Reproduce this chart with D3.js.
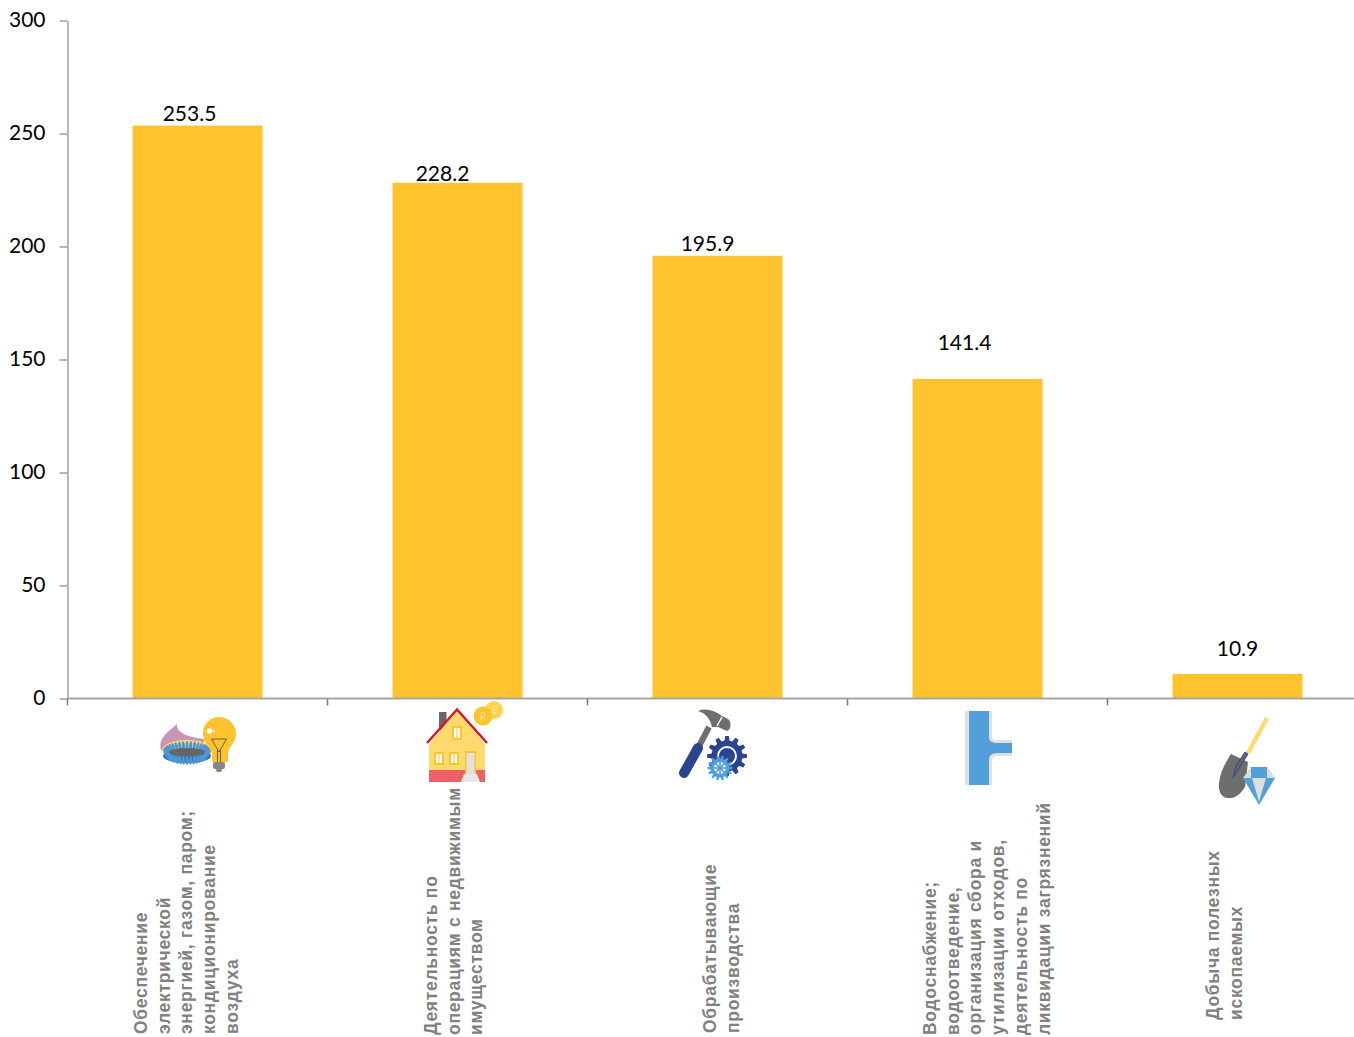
<!DOCTYPE html>
<html>
<head>
<meta charset="utf-8">
<script src="https://cdnjs.cloudflare.com/ajax/libs/d3/7.8.5/d3.min.js"></script>
<style>
  html, body { margin: 0; padding: 0; background: #fff; overflow: hidden; }
</style>
</head>
<body>
<div id="chart"></div>
<script>
// chart data
var categories = ["electricity", "realestate", "manufacturing", "water", "mining"];
var values = [253.5, 228.2, 195.9, 141.4, 10.9];
var yTicks = [0, 50, 100, 150, 200, 250, 300];
var categoryLines = [
    ["Обеспечение", "электрической", "энергией, газом, паром;", "кондиционирование", "воздуха"],
    ["Деятельность по", "операциям с недвижимым", "имуществом"],
    ["Обрабатывающие", "производства"],
    ["Водоснабжение;", "водоотведение,", "организация сбора и", "утилизации отходов,", "деятельность по", "ликвидации загрязнений"],
    ["Добыча полезных", "ископаемых"]
];

var svgWidth = 1354;
var svgHeight = 1037;
var margin = { top: 20.5, left: 67.5, bottom: 338.5 };
var plotBottom = svgHeight - margin.bottom;

var svg = d3.select("#chart")
    .append("svg")
    .attr("width", svgWidth)
    .attr("height", svgHeight)
    .style("display", "block");

// the last band runs past the right edge of the picture, as in the original
var xScale = d3.scaleBand()
    .domain(categories)
    .range([margin.left, margin.left + 1300])
    .paddingInner(0.5)
    .paddingOuter(0.25);

var yScale = d3.scaleLinear()
    .domain([0, 300])
    .range([plotBottom, margin.top]);

var axisColor = "#a6a6a6";
var numberFont = "Lato, sans-serif";

// bars
svg.selectAll(".bar")
    .data(values)
    .enter()
    .append("rect")
    .attr("class", "bar")
    .attr("x", (d, i) => xScale(categories[i]))
    .attr("width", xScale.bandwidth())
    .attr("y", d => yScale(d))
    .attr("height", d => plotBottom - yScale(d))
    .attr("fill", "#ffc32d");

// y axis
var leftAxis = d3.axisLeft(yScale)
    .tickValues(yTicks)
    .tickSize(8)
    .tickSizeOuter(0)
    .tickPadding(14);

var yAxisGroup = svg.append("g")
    .attr("transform", `translate(${margin.left}, 0)`)
    .call(leftAxis);
yAxisGroup.selectAll("path, line").attr("stroke", axisColor).attr("stroke-width", 1.6);
yAxisGroup.selectAll("text")
    .attr("fill", "#000")
    .attr("dy", "0.28em")
    .style("font-family", numberFont)
    .style("font-size", "21px");

// x axis, ticks sit between the categories
svg.append("line")
    .attr("x1", margin.left)
    .attr("x2", svgWidth)
    .attr("y1", plotBottom)
    .attr("y2", plotBottom)
    .attr("stroke", axisColor)
    .attr("stroke-width", 1.8);

svg.selectAll(".xtick")
    .data(categories)
    .enter()
    .append("line")
    .attr("class", "xtick")
    .attr("x1", (d, i) => margin.left + i * xScale.step())
    .attr("x2", (d, i) => margin.left + i * xScale.step())
    .attr("y1", plotBottom)
    .attr("y2", plotBottom + 7)
    .attr("stroke", "#808080")
    .attr("stroke-width", 1.6);

// value labels were moved by hand in the original, so they have their own nudges
var labelNudgeX = [-8, -15, -10, -13, 0];
var labelNudgeY = [-5, -2, -5, -29, -18];

svg.selectAll(".value")
    .data(values)
    .enter()
    .append("text")
    .attr("class", "value")
    .attr("x", (d, i) => xScale(categories[i]) + xScale.bandwidth() / 2 + labelNudgeX[i])
    .attr("y", (d, i) => yScale(d) + labelNudgeY[i])
    .attr("text-anchor", "middle")
    .style("font-family", numberFont)
    .style("font-size", "21px")
    .text(d => d.toFixed(1));

// rotated category captions
var captionX = [147, 437, 716, 936, 1219];
var captionBottom = [1034, 1035, 1033, 1035, 1020];
var captionStep = 22.7;

categoryLines.forEach(function(lines, i) {
    lines.forEach(function(line, j) {
        var x = captionX[i] + j * captionStep;
        svg.append("text")
            .attr("transform", `translate(${x}, ${captionBottom[i]}) rotate(-90)`)
            .style("font-family", "'Liberation Sans', Arial, sans-serif")
            .style("font-size", "17.5px")
            .style("letter-spacing", "0.7px")
            .style("font-weight", "bold")
            .attr("fill", "#808080")
            .text(line);
    });
});

// icons under the axis
var icons = svg.append("g").attr("class", "icons");

function gear(g, cx, cy, outer, inner, teeth, fill) {
    var pts = [];
    for (var t = 0; t < teeth; t++) {
        var a = t / teeth * 2 * Math.PI;
        var w = Math.PI / teeth * 0.5;
        [[inner, a - w * 1.3], [outer, a - w * 0.7], [outer, a + w * 0.7], [inner, a + w * 1.3]].forEach(function(p) {
            pts.push((cx + p[0] * Math.cos(p[1])).toFixed(1) + "," + (cy + p[0] * Math.sin(p[1])).toFixed(1));
        });
    }
    g.append("polygon").attr("points", pts.join(" ")).attr("fill", fill);
}

function drawEnergy(g) {
    g.append("path")
        .attr("d", "M161,750 C158,738 168,732 177,724 C176,734 190,737 204,739 L204,755 L170,760 Z")
        .attr("fill", "#c895b4");
    g.append("ellipse").attr("cx", 187).attr("cy", 750).attr("rx", 25).attr("ry", 10).attr("fill", "#ffdb6e");
    g.append("ellipse").attr("cx", 187).attr("cy", 756).attr("rx", 24).attr("ry", 7).attr("fill", "#3f6fa8");
    // burner flames
    d3.range(0, 360, 10).forEach(function(a) {
        var r = a * Math.PI / 180;
        var x = 187 + 21 * Math.cos(r);
        var y = 753 + 7.5 * Math.sin(r);
        g.append("ellipse")
            .attr("cx", x).attr("cy", y)
            .attr("rx", 1.5).attr("ry", 4.5)
            .attr("transform", `rotate(${Math.cos(r) * 30}, ${x}, ${y})`)
            .attr("fill", "#4d97d6");
    });
    g.append("ellipse").attr("cx", 187).attr("cy", 752).attr("rx", 18).attr("ry", 4).attr("fill", "#666");
    g.append("path")
        .attr("d", "M219,717 C229,717 236,725 236,734 C236,743 229,746 228,753 L228,762 L212,762 L212,753 C209,746 203,743 203,733 C203,724 210,717 219,717 Z")
        .attr("fill", "#ffc32d");
    g.append("circle").attr("cx", 209.5).attr("cy", 731).attr("r", 2.8).attr("fill", "#fff");
    g.append("circle").attr("cx", 214).attr("cy", 731).attr("r", 1).attr("fill", "#fff");
    g.append("path")
        .attr("d", "M211.5,739 L226.5,739 L219,752 Z M217.5,750 L217.5,762 M220.5,750 L220.5,762")
        .attr("fill", "none").attr("stroke", "#555").attr("stroke-width", 0.9);
    g.append("rect").attr("x", 213).attr("y", 762).attr("width", 12).attr("height", 7).attr("rx", 2).attr("fill", "#888");
    g.append("rect").attr("x", 216).attr("y", 768).attr("width", 6).attr("height", 4).attr("rx", 2).attr("fill", "#888");
}

function drawHouse(g) {
    g.append("circle").attr("cx", 494).attr("cy", 710).attr("r", 9).attr("fill", "#ffd34d");
    g.append("circle").attr("cx", 483).attr("cy", 716).attr("r", 9.5).attr("fill", "#ffc32d");
    g.append("text").attr("x", 483).attr("y", 720).attr("text-anchor", "middle")
        .style("font-size", "11px").style("font-family", "'DejaVu Sans'").attr("fill", "#ffe08a").text("₽");
    g.append("text").attr("x", 495).attr("y", 714).attr("text-anchor", "middle")
        .style("font-size", "11px").style("font-family", "'DejaVu Sans'").attr("fill", "#ffe08a").text("₽");
    g.append("rect").attr("x", 439).attr("y", 712).attr("width", 7.5).attr("height", 18).attr("fill", "#666");
    g.append("path").attr("d", "M429,744 L457,710 L485,744 L485,782 L429,782 Z").attr("fill", "#ffdb6e");
    g.append("rect").attr("x", 429).attr("y", 770).attr("width", 56).attr("height", 12).attr("fill", "#ee6065");
    g.append("path").attr("d", "M427,743 L457,709.5 L487,743").attr("fill", "none").attr("stroke", "#e0102a").attr("stroke-width", 2.4);
    [[452, 726, 10, 14], [434, 752, 10, 13], [449, 752, 10, 13]].forEach(function(w) {
        g.append("rect").attr("x", w[0]).attr("y", w[1]).attr("width", w[2]).attr("height", w[3]).attr("fill", "#ffc32d");
        g.append("rect").attr("x", w[0] + 2).attr("y", w[1] + 2).attr("width", 2.5).attr("height", w[3] - 4).attr("fill", "#fff");
        g.append("rect").attr("x", w[0] + 5.5).attr("y", w[1] + 2).attr("width", 2.5).attr("height", w[3] - 4).attr("fill", "#fff");
    });
    g.append("rect").attr("x", 465).attr("y", 751).attr("width", 11).attr("height", 23).attr("fill", "#ffc32d");
    g.append("rect").attr("x", 466.5).attr("y", 753).attr("width", 8).attr("height", 21).attr("fill", "#e2e2e2");
    g.append("path").attr("d", "M461,782 L464,774 L477,774 L480,782 Z").attr("fill", "#e8e8e8");
}

function drawTools(g) {
    g.append("line").attr("x1", 697).attr("y1", 750).attr("x2", 709).attr("y2", 727)
        .attr("stroke", "#6e6e6e").attr("stroke-width", 6);
    g.append("line").attr("x1", 684).attr("y1", 773).attr("x2", 698).attr("y2", 748)
        .attr("stroke", "#2a4590").attr("stroke-width", 10).attr("stroke-linecap", "round");
    g.append("path")
        .attr("d", "M698,711 C706,708 714,710 722,716 L728,719 C732,722 731,730 727,731 L718,727 L712,727 C710,718 705,713 698,711 Z")
        .attr("fill", "#6e6e6e");
    g.append("line").attr("x1", 722).attr("y1", 717).attr("x2", 717).attr("y2", 726).attr("stroke", "#fff").attr("stroke-width", 1.5);
    gear(g, 727, 756, 20, 15.5, 12, "#2a4590");
    g.append("circle").attr("cx", 727).attr("cy", 756).attr("r", 10).attr("fill", "#fff");
    g.append("circle").attr("cx", 727).attr("cy", 756).attr("r", 8).attr("fill", "#2a4590");
    gear(g, 720, 768, 12.5, 9.5, 14, "#4d9edb");
    g.append("circle").attr("cx", 720).attr("cy", 768).attr("r", 6).attr("fill", "#fff");
    d3.range(0, 180, 45).forEach(function(a) {
        var r = a * Math.PI / 180;
        g.append("line")
            .attr("x1", 720 - 8 * Math.cos(r)).attr("y1", 768 - 8 * Math.sin(r))
            .attr("x2", 720 + 8 * Math.cos(r)).attr("y2", 768 + 8 * Math.sin(r))
            .attr("stroke", "#4d9edb").attr("stroke-width", 1.6);
    });
}

function drawPipe(g) {
    g.append("path")
        .attr("d", "M965,711 L992,711 L992,737 C992,739 994,740 996,740 L1012,740 L1012,756 L996,756 C994,756 992,758 992,760 L992,785 L965,785 Z")
        .attr("fill", "#e0e0e0");
    g.append("path")
        .attr("d", "M969,711 L989,711 L989,738 C989,741 993,743 997,743 L1012,743 L1012,753 L997,753 C993,753 989,755 989,759 L989,785 L969,785 Z")
        .attr("fill", "#529fd9");
}

function drawShovel(g) {
    g.append("line").attr("x1", 1267).attr("y1", 718).attr("x2", 1248).attr("y2", 753)
        .attr("stroke", "#ffdb6e").attr("stroke-width", 4.5);
    g.append("path")
        .attr("d", "M1231,754 L1248,762 L1245,787 C1240,795 1234,799 1228,798 C1221,798 1218,790 1219,783 C1220,772 1226,762 1231,754 Z")
        .attr("fill", "#6e6e6e");
    g.append("path")
        .attr("d", "M1248,754 L1233,778 L1236,766 L1245,752 Z")
        .attr("fill", "#666").attr("stroke", "#2a4590").attr("stroke-width", 0.9);
    g.append("path").attr("d", "M1251,767 L1267,767 L1275,778 L1259,805 L1243,778 Z").attr("fill", "#529fd9");
    g.append("path").attr("d", "M1251,767 L1243,778 L1251,778 Z M1267,767 L1275,778 L1267,778 Z").attr("fill", "#dedede");
    g.append("path").attr("d", "M1252,778 L1266,778 L1259,802 Z").attr("fill", "#dedede");
}

drawEnergy(icons.append("g"));
drawHouse(icons.append("g"));
drawTools(icons.append("g"));
drawPipe(icons.append("g"));
drawShovel(icons.append("g"));
</script>
</body>
</html>
